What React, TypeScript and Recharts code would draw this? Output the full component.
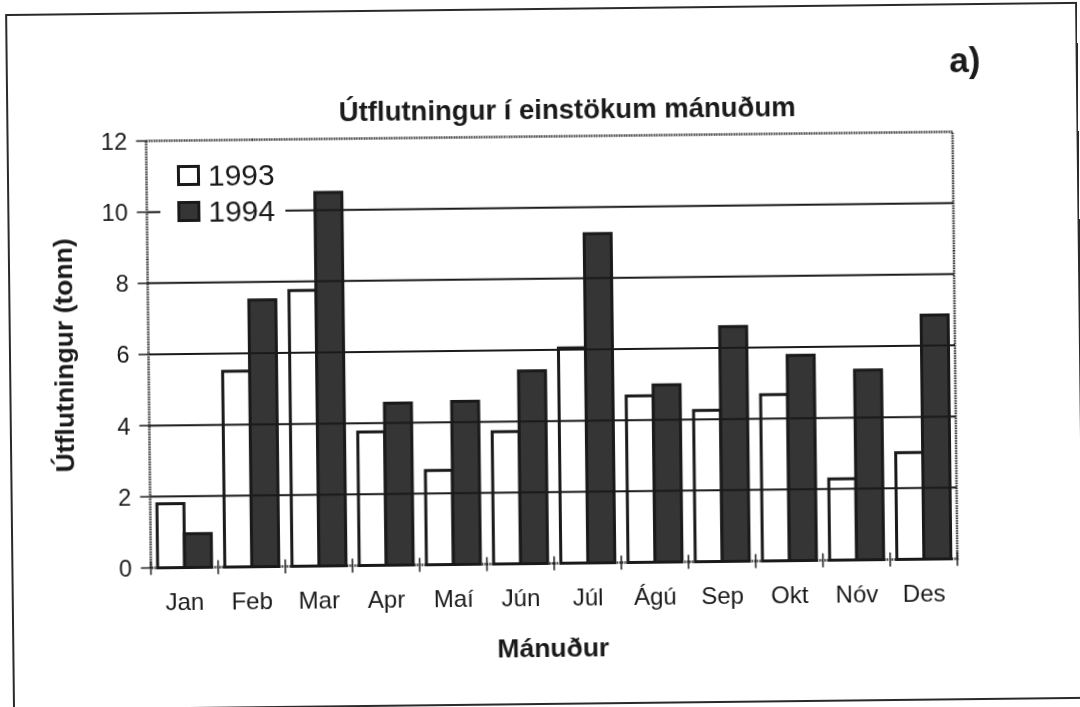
import React from "react";
import { Bar, BarChart, Legend, ReferenceArea, ReferenceLine, XAxis, YAxis } from "recharts";

const months = ["Jan", "Feb", "Mar", "Apr", "Maí", "Jún", "Júl", "Ágú", "Sep", "Okt", "Nóv", "Des"];
const exports1993 = [1.8, 5.5, 7.75, 3.75, 2.65, 3.72, 6.05, 4.68, 4.25, 4.67, 2.28, 3.0];
const exports1994 = [0.95, 7.5, 10.5, 4.55, 4.58, 5.42, 9.25, 4.98, 6.6, 5.77, 5.33, 6.86];
const yTicks = [0, 2, 4, 6, 8, 10, 12];
const gridValues = [2, 4, 6, 8, 10];

const data = months.map((month, i) => ({
  month,
  y1993: exports1993[i],
  y1994: exports1994[i],
}));

const FONT = '"Liberation Sans", Arial, Helvetica, sans-serif';
const INK = "#1a1a1a";
const DARK = "#353535";

// month label plus tick marks on the band edges
function MonthTick(props: any) {
  const { x, y, payload, index, width } = props;
  const half =
    payload && typeof payload.offset === "number" && payload.offset > 0
      ? payload.offset
      : (width || 806) / months.length / 2;
  const left = x - half;
  return (
    <g>
      <line x1={left} x2={left} y1={y - 7} y2={y + 7} stroke={INK} strokeWidth={1.5} />
      {index === months.length - 1 && (
        <line x1={x + half} x2={x + half} y1={y - 7} y2={y + 7} stroke={INK} strokeWidth={1.5} />
      )}
      <text x={x} y={y + 42} textAnchor="middle" fontSize={24} fill={INK} fontFamily={FONT}>
        {payload.value}
      </text>
    </g>
  );
}

function LegendBox(props: any) {
  const items = props.payload || [];
  return (
    <div style={{ background: "#fff", padding: "3.5px 0 3.5px 17px", fontFamily: FONT }}>
      {items.map((it: any) => (
        <div key={it.value} style={{ display: "flex", alignItems: "center", height: 36 }}>
          <span
            style={{
              display: "inline-block",
              width: 23,
              height: 21,
              boxSizing: "border-box",
              border: `3px solid ${INK}`,
              background: it.color,
              marginRight: 8,
            }}
          />
          <span style={{ fontSize: 30, color: INK, lineHeight: "36px" }}>{it.value}</span>
        </div>
      ))}
    </div>
  );
}

export default function App() {
  return (
    <div
      style={{
        position: "fixed",
        left: 0,
        top: 0,
        width: 1080,
        height: 707,
        background: "#fff",
        transform: "rotate(-0.65deg)",
        transformOrigin: "540px 353px",
      }}
    >
      <BarChart
        width={1080}
        height={707}
        data={data}
        margin={{ top: 136.5, right: 125, bottom: 0, left: 0 }}
        barCategoryGap="10%"
        barGap={0}
      >
        {gridValues.map((v) => (
          <ReferenceLine key={v} y={v} stroke={INK} strokeWidth={2} />
        ))}
        <XAxis
          dataKey="month"
          axisLine={false}
          tickLine={false}
          tickSize={0}
          tickMargin={0}
          height={143.5}
          interval={0}
          tick={<MonthTick />}
        />
        <YAxis
          domain={[0, 12]}
          ticks={yTicks}
          interval={0}
          width={148.5}
          axisLine={false}
          tickLine={{ stroke: INK, strokeWidth: 1.5 }}
          tickSize={10}
          tickMargin={9}
          tick={{ fontSize: 23.5, fill: INK, fontFamily: FONT }}
        />
        <Bar dataKey="y1993" name="1993" fill="#ffffff" stroke={INK} strokeWidth={3} isAnimationActive={false} />
        <Bar dataKey="y1994" name="1994" fill={DARK} stroke={INK} strokeWidth={3} isAnimationActive={false} />
        <ReferenceArea
          y1={0}
          y2={12}
          fill="none"
          stroke="#2a2a2a"
          strokeWidth={2.5}
          strokeDasharray="1.5 1"
        />
        <Legend
          layout="vertical"
          align="center"
          verticalAlign="middle"
          wrapperStyle={{ left: 162, top: 150, width: 125 }}
          content={LegendBox}
        />
      </BarChart>

      <svg
        width={1080}
        height={707}
        style={{ position: "absolute", left: 0, top: 0, pointerEvents: "none", overflow: "visible" }}
      >
        <rect x={10} y={9} width={1070} height={695} fill="none" stroke="#2a2a2a" strokeWidth={2} />
        <text x={968} y={77} textAnchor="middle" fontSize={35} fontWeight="bold" fill={INK} fontFamily={FONT}>
          a)
        </text>
        <text x={570} y={119} textAnchor="middle" fontSize={27.5} fontWeight="bold" fill={INK} fontFamily={FONT}>
          Útflutningur í einstökum mánuðum
        </text>
        <text x={550} y={657} textAnchor="middle" fontSize={26.5} fontWeight="bold" fill={INK} fontFamily={FONT}>
          Mánuður
        </text>
        <text
          transform="translate(73,350) rotate(-90)"
          textAnchor="middle"
          fontSize={26.5}
          fontWeight="bold"
          fill={INK}
          fontFamily={FONT}
        >
          Útflutningur (tonn)
        </text>
      </svg>
    </div>
  );
}
